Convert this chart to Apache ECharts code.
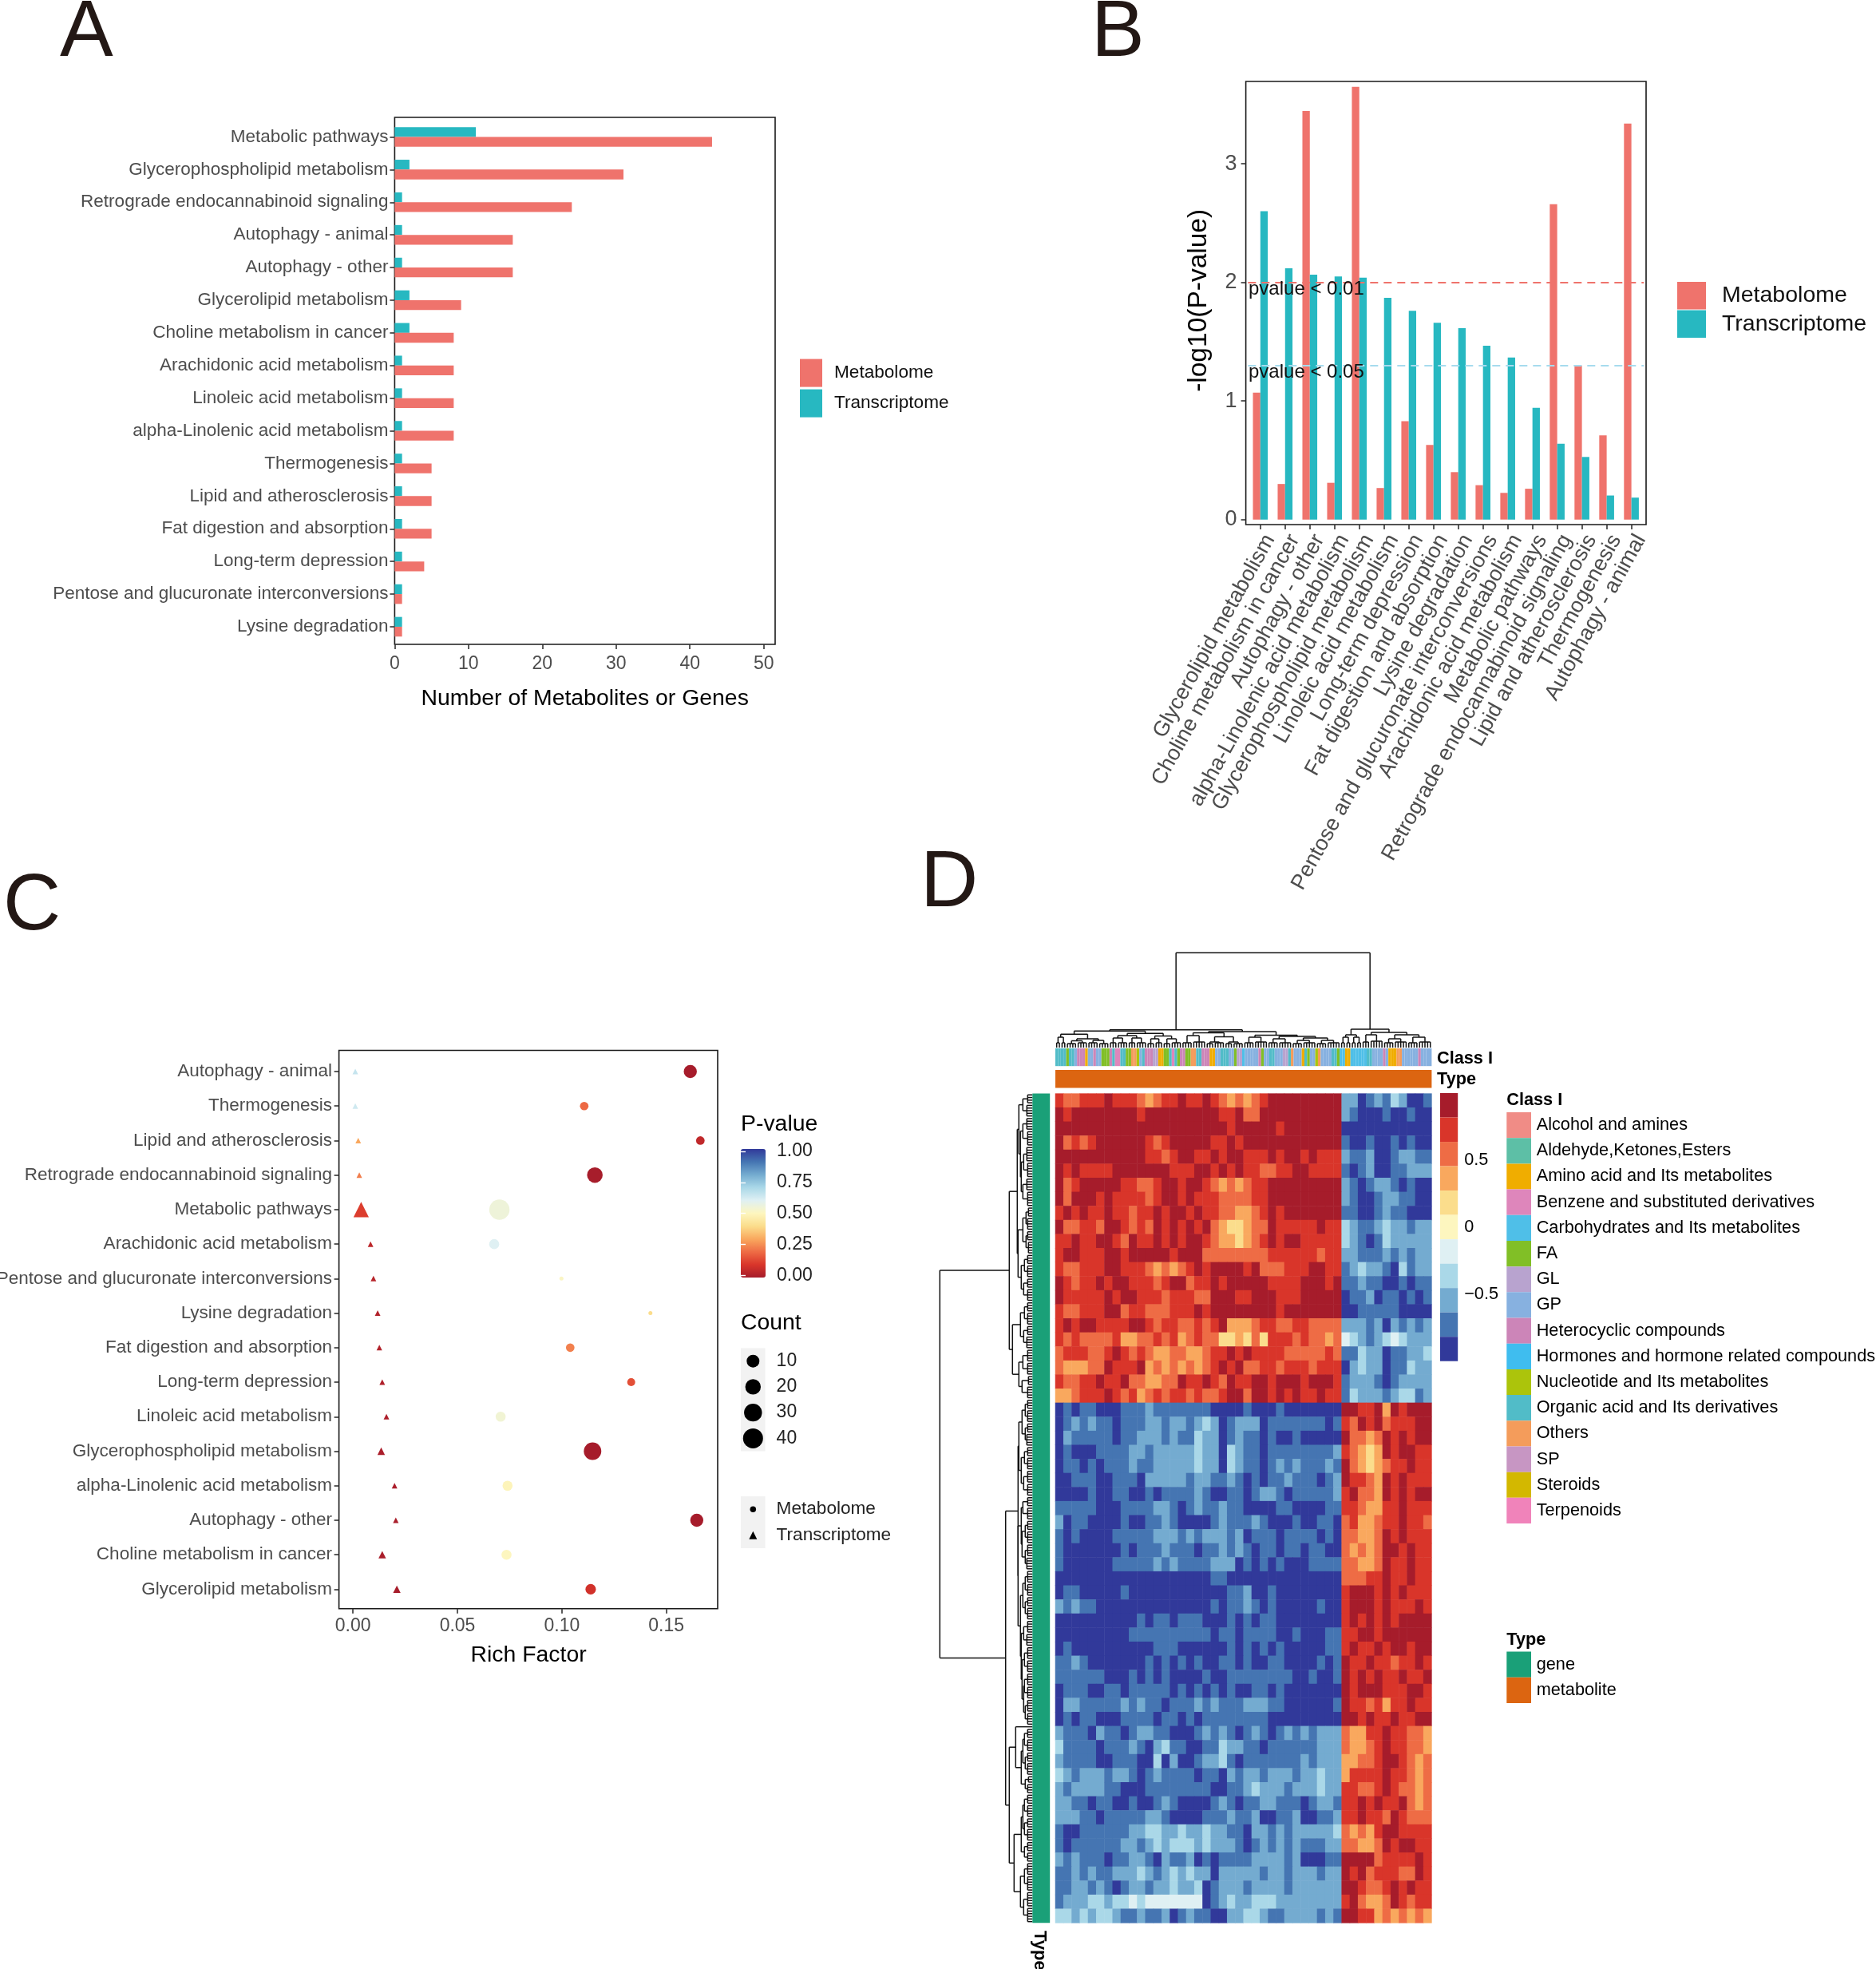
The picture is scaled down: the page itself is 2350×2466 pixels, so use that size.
<!DOCTYPE html>
<html><head><meta charset="utf-8">
<style>html,body{margin:0;padding:0;background:#fff}#c{width:2350px;height:2466px}</style>
<script src="https://cdn.jsdelivr.net/npm/echarts@6/dist/echarts.min.js"></script>
</head><body><div id="c"></div>
<script>
// ---------- Panel A ----------
const catsA = ['Metabolic pathways','Glycerophospholipid metabolism','Retrograde endocannabinoid signaling','Autophagy - animal','Autophagy - other','Glycerolipid metabolism','Choline metabolism in cancer','Arachidonic acid metabolism','Linoleic acid metabolism','alpha-Linolenic acid metabolism','Thermogenesis','Lipid and atherosclerosis','Fat digestion and absorption','Long-term depression','Pentose and glucuronate interconversions','Lysine degradation'];
const metA = [43,31,24,16,16,9,8,8,8,8,5,5,5,4,1,1];
const traA = [11,2,1,1,1,2,2,1,1,1,1,1,1,1,1,1];
// ---------- Panel B ----------
const catsB = ['Glycerolipid metabolism','Choline metabolism in cancer','Autophagy - other','alpha-Linolenic acid metabolism','Glycerophospholipid metabolism','Linoleic acid metabolism','Long-term depression','Fat digestion and absorption','Lysine degradation','Pentose and glucuronate interconversions','Arachidonic acid metabolism','Metabolic pathways','Retrograde endocannabinoid signaling','Lipid and atherosclerosis','Thermogenesis','Autophagy - animal'];
const metB = [1.07,0.30,3.446,0.31,3.65,0.266,0.83,0.63,0.40,0.29,0.225,0.26,2.66,1.30,0.71,3.34];
const traB = [2.60,2.12,2.066,2.05,2.04,1.87,1.76,1.66,1.615,1.466,1.367,0.943,0.64,0.528,0.203,0.185];
const thresholds = [2, 1.3];
// ---------- Panel C ----------
const catsC = ['Autophagy - animal','Thermogenesis','Lipid and atherosclerosis','Retrograde endocannabinoid signaling','Metabolic pathways','Arachidonic acid metabolism','Pentose and glucuronate interconversions','Lysine degradation','Fat digestion and absorption','Long-term depression','Linoleic acid metabolism','Glycerophospholipid metabolism','alpha-Linolenic acid metabolism','Autophagy - other','Choline metabolism in cancer','Glycerolipid metabolism'];
const richMet = [0.1615,0.1107,0.1663,0.1158,0.0701,0.0676,0.0998,0.1424,0.104,0.1332,0.0707,0.1147,0.074,0.1646,0.0735,0.1138];
const richTra = [0.0011,0.0011,0.0025,0.003,0.0039,0.0084,0.0098,0.0118,0.0126,0.014,0.016,0.0135,0.0199,0.0205,0.014,0.021];
const pMet = [0.0005,0.195,0.05,0.002,0.55,0.6,0.51,0.40,0.234,0.148,0.54,0.0002,0.49,0.0004,0.50,0.085];
const pTra = [0.65,0.63,0.30,0.23,0.114,0.043,0.034,0.024,0.022,0.017,0.0135,0.009,0.009,0.0086,0.0076,0.0025];
const countMet = [16,5,5,24,43,8,1,1,5,4,8,31,8,16,8,9];
const countTra = [1,1,1,1,11,1,1,1,1,1,1,2,1,1,2,2];
const countLegend = [10,20,30,40];
const shapeLegend = ['Metabolome','Transcriptome'];
// ---------- Panel D ----------
const classNames = ['Alcohol and amines','Aldehyde,Ketones,Esters','Amino acid and Its metabolites','Benzene and substituted derivatives','Carbohydrates and Its metabolites','FA','GL','GP','Heterocyclic compounds','Hormones and hormone related compounds','Nucleotide and Its metabolites','Organic acid and Its derivatives','Others','SP','Steroids','Terpenoids'];
const classColors = ['#F08C86','#5DBFA6','#F0AD00','#DE86BB','#4FBFE8','#81BF26','#B8A3CF','#87B1E0','#CC85B8','#3FBDEF','#ACC40B','#51BCC8','#F49C5B','#C796C3','#D3B800','#F083BA'];
const typeNames = ['gene','metabolite'];
const typeColors = ['#1AA078','#DC6511'];
const levelColors = ['#31399A','#4575B2','#74ABD0','#AAD8E8','#DFF0F3','#FDF6BF','#FBDD8C','#F9A85E','#EE6C45','#D9352A','#A61C2B'];
// one letter per column: A..P = index in classNames
const classCols = 'LLLL F LLH III C HH I HH FFF IL DD LL FF MM K HL III GG CC FFL D LF II FF MM LL III CC HH LLL HH F GG E HHHHH I F HH LL HHH GG LM HHH C L F HH K MH HHH LL F EE CC EEEEEE LL HHH HIH CCC MM HHHHHH I HHHH';
// heat levels on a coarse grid; 0 = darkest blue ... a = darkest red
const heatRows = [
'98899 9a999 87899 a99a9 87878 9aaaa aaaaa 22012132001',
'a9aaa aaaaa 9aaaa aaaaa 99a88 aaaaa aaaaa 21000100100',
'aaaaa aaaaa aaaaa aaaaa a9aaa aa9aa aaaaa 00000000000',
'a8989 aaaaa a989a aaaa9 9a9aa aaaaa aaaaa 10010010100',
'aaaaa aaaaa a9989 aa99a 9aa99 9a9aa 9a999 21120012211',
'a9a99 99aaa aaaa9 99aa9 a9a99 8899a a9999 10120011222',
'a89aa aaa99 889aa 9aa98 78789 9aaaa aaaaa 21012210100',
'a8aaa 9a999 989aa 9a999 88889 9aaaa aaaaa 21001221100',
'9a9a9 9a998 99a9a a9a99 88778 9a9aa aaaaa 11001211000',
'a8899 8aa98 98a9a 9a9a8 76678 8a999 99a99 32112322122',
'99a99 aa98a 99a9a 9aa98 77678 9a9aa 99999 32101322222',
'9aa99 9aa9a aaaa9 aaa88 88888 89999 99899 22111212122',
'98899 9aa99 98787 89a9a aaa9a 88899 9aa99 12322103122',
'a9899 a9aa9 9989a a899a 9aaaa a9999 aaa9a 11211001011',
'a9999 9a9aa 99989 9988a aa99a aa999 aaaaa 01120110101',
'98899 9aa89 98889 99a9a aaaaa aa9aa aaaaa 00111110000',
'9a9aa 9999a a9899 88989 a7778 99889 98888 22212021212',
'98988 88977 88989 78988 66768 69998 98878 43212343222',
'89998 89a98 98778 87789 9a9a9 99988 88898 11322011223',
'87778 8a999 a7878 78789 a9a88 99899 98999 02322011322',
'98899 a99a8 87788 a99a9 8a99a a9aaa 9aaa9 12221012222',
'77899 9a989 78989 98988 9aa8a a9a9a 99a99 13222123312',
'01011 00011 12111 11110 00010 00100 00000 aa99a7a9aaa',
'01212 11011 12212 21232 01222 01111 11101 98a9a8999aa',
'02111 11011 22212 11322 01211 01001 00000 a8878a9a9aa',
'01000 11112 21222 22322 03211 01111 11112 98767a9aa99',
'01101 01112 11222 22322 03211 01212 11121 a8767899a99',
'00111 00111 02222 21221 12101 01121 11012 a9987a9a999',
'00001 00110 01011 11210 01101 22101 11112 9a887a9a9aa',
'11111 00011 11221 01211 21100 00110 00011 9987799a999',
'20110 00010 01121 00001 21112 10001 00110 8977899a998',
'10100 00111 11222 12122 21201 11011 11010 88778a9a999',
'10000 00010 11121 11011 21210 11011 01100 87878aa9a99',
'10000 00111 11212 11112 22010 10100 01111 88778a99a99',
'00000 00000 00000 00001 10000 00000 00000 88899a99a99',
'01100 00010 00000 00000 01120 01000 00000 9aaa9a9a999',
'21211 00000 00000 00001 01121 01000 00100 9aaa9a999a9',
'00000 00000 10110 11100 01010 11000 00000 9a9a9a9aaaa',
'00000 00001 11111 11110 11011 11001 00011 99aa9aaaaaa',
'01000 00000 00111 00000 01010 10100 00011 9a99a9aa9aa',
'11210 00000 01010 10100 11010 01100 00101 a99a99899a9',
'11111 10001 01010 00010 01111 11110 01001 a9a9a99a99a',
'01110 01101 11110 10101 01001 10100 00000 a9aaa999aa9',
'02211 11121 21101 11212 11122 21100 00001 a9989799a99',
'01011 00011 11011 01011 11111 10000 00000 aa9a99a99aa',
'21110 21101 22110 00121 21012 10121 21222 87799a99887',
'31111 01112 10231 10011 32211 01111 11222 87789a99887',
'21111 00111 00302 00122 31011 11111 21222 77889aa9878',
'32122 21221 01211 11011 02122 12221 22322 79999a99878',
'21222 21100 01111 11110 01123 22212 22322 99889a98878',
'22110 11001 00121 00001 21011 22111 01221 99a9a99a878',
'22211 01111 12210 00011 12112 00112 00112 99a998a9888',
'10011 11112 23322 32232 21102 21212 22223 87879aa9999',
'10111 11122 12323 33232 22101 21212 11122 88778a9aa99',
'21211 10112 21021 12010 11112 22212 00011 aaaa89999a9',
'11212 11222 32123 23220 22222 12212 22122 a9a899988a9',
'11221 21012 21223 22301 22212 22212 22222 aa9889a9a99',
'12223 32334 34444 44401 23223 33222 22222 9a8778a9899',
'33232 33211 21120 12110 02233 21122 22121 aa997878787'
];
// dendrograms: leaf = [leaves, height]; node = [height, childA, childB]
const topTree = [118.8,
 [22.3,
  [20.7,
   [16.7,[13,[2,6],[2,6]],[11,[8.5,[4,5],[4,6]],[9,[4,6],[4,5]]]],
   [17.7,[15,[12,[3,6],[4,6]],[12,[3,6],[4,6]]],[14.5,[11,[3,5],[3,6]],[11,[3,5],[4,6]]]]],
  [20,
   [18.5,[15,[4,6],[5,7]],[13.5,[7,[3,5],[4,6]],[7,[3,5],[4,5]]]],
   [15.5,[13,[4,6],[5,7]],[14,[11,[4,6],[5,6]],[12,[9,[4,5],[5,6]],[9,[4,5],[5,6]]]]]]],
 [23,
  [16,[13,[2,6],[2,6]],[13,[2,6],[2,6]]],
  [19,[16,[3,7],[5,8]],[16,[11,[4,6],[5,7]],[13,[4,6],[5,7]]]]]];
const leftTree = [116,
 [29,
  [19,
   [17,[12,[4,6],[5,7]],[15,[12,[5,7],[6,6]],[14,[11,[6,7],[6,6]],[12,[5,7],[6,6]]]]],
   [18,[12,[8,[4,5],[5,6]],[8,[4,6],[5,5]]],[14,[10,[4,6],[5,6]],[11,[4,6],[5,6]]]]],
  [25,[15,[10,[4,6],[5,6]],[11,[4,6],[5,7]]],[17,[12,[5,6],[5,6]],[13,[4,5],[5,6]]]]],
 [33.6,
  [18,
   [17,[13,[9,[4,6],[5,6]],[9,[4,6],[5,7]]],[14,[10,[4,6],[5,6]],[11,[5,6],[5,6]]]],
   [18,
    [14,[12,[4,6],[5,6]],[13,[9,[4,6],[5,6]],[9,[5,6],[5,7]]]],
    [15,[12,[9,[5,6],[5,6]],[9,[4,6],[5,6]]],[14,[11,[5,6],[5,7]],[13,[10,[5,6],[5,6]],[11,[10,[5,6],[5,6]],[9,[5,6],[5,6]]]]]]]],
  [29,
   [21,[1,0],[14,[12,[10,[4,6],[5,6]],[9,[4,6],[5,6]]],[9,[3,5],[4,6]]]],
   [23,[14,[12,[10,[4,6],[5,6]],[10,[4,6],[5,6]]],[10,[4,6],[4,6]]],[15,[10,[5,6],[6,6]],[11,[6,6],[6,6]]]]]]];

// ---------- styling ----------
const RED='#EF736C', TEAL='#27B8C1', GREY='#4D4D4D', TICK='#333';
const SANS='"Liberation Sans",Arial,sans-serif';
const LBL=22.5, TICKFONT=23, TITLE=28.4;   // narrow-looking text sized to the reference's widths
const grids=[], xAxes=[], yAxes=[], series=[], visualMaps=[], graphics=[];
function addGrid(l,t,w,h,extra){grids.push(Object.assign({left:l,top:t,width:w,height:h,containLabel:false,outerBoundsMode:'none',show:false},extra||{}));return grids.length-1;}
function frame(l,t,w,h){addGrid(l,t,w,h,{show:true,borderColor:'#1a1a1a',borderWidth:1.6,backgroundColor:'transparent'});}
function hiddenAxis(gi,o){return Object.assign({gridIndex:gi,show:false,splitLine:{show:false}},o);}
function addX(o){xAxes.push(o);return xAxes.length-1;}
function addY(o){yAxes.push(o);return yAxes.length-1;}
const tick={show:true,length:6,lineStyle:{color:TICK,width:1.6}};
function txt(x,y,text,size,color,extra){graphics.push(Object.assign({type:'text',x:x,y:y,silent:true,z:20,style:Object.assign({text:text,font:(extra&&extra.weight||'normal')+' '+size+'px '+SANS,fill:color||'#000',textAlign:'left',textVerticalAlign:'middle'},extra&&extra.style||{})},extra&&extra.el||{}));}

// Panel letters
[['A',75,42],['B',1367,42],['C',4,1136],['D',1153,1107]].forEach(a=>txt(a[1],a[2],a[0],100,'#231815'));

// ===== Panel A =====
frame(494.4,147,476.6,660);
{const g=addGrid(494.4,151,476.6,654.4);
 const xi=addX({type:'value',gridIndex:g,min:0,max:51.55,interval:10,offset:1.7,splitLine:{show:false},axisLine:{show:false},axisTick:tick,
   axisLabel:{color:GREY,fontFamily:SANS,fontSize:TICKFONT,margin:13,showMaxLabel:false},name:'Number of Metabolites or Genes',nameLocation:'middle',nameGap:54,nameTextStyle:{color:'#000',fontFamily:SANS,fontSize:TITLE}});
 const yi=addY({type:'category',gridIndex:g,inverse:true,data:catsA,axisLine:{show:false},axisTick:Object.assign({alignWithLabel:true},tick),
   axisLabel:{color:GREY,fontFamily:SANS,fontSize:LBL,margin:8,interval:0,padding:[3,0,0,0]}});
 series.push({name:'Transcriptome',type:'bar',xAxisIndex:xi,yAxisIndex:yi,data:traA,barWidth:12.3,barGap:0,itemStyle:{color:TEAL}});
 series.push({name:'Metabolome',type:'bar',xAxisIndex:xi,yAxisIndex:yi,data:metA,barWidth:12.3,barGap:0,itemStyle:{color:RED}});
}
// ===== Panel B =====
frame(1560.6,102,501.4,555);
{const g=addGrid(1563.3,102,495.8,548.7);
 const xi=addX(hiddenAxis(g,{type:'category',data:catsB}));
 const yi=addY(hiddenAxis(g,{type:'value',min:0,max:3.695}));
 series.push({name:'Metabolome',type:'bar',xAxisIndex:xi,yAxisIndex:yi,data:metB,barWidth:9.3,barGap:0,itemStyle:{color:RED}});
 series.push({name:'Transcriptome',type:'bar',xAxisIndex:xi,yAxisIndex:yi,data:traB,barWidth:9.3,barGap:0,itemStyle:{color:TEAL},
   markLine:{silent:true,symbol:'none',label:{show:false},data:[
     {yAxis:thresholds[0],lineStyle:{color:RED,type:[10,7],width:2}},
     {yAxis:thresholds[1],lineStyle:{color:'#A6DBEE',type:[10,7],width:2}}]}});
 // x labels sit on the frame's bottom edge
 const gx=addGrid(1563.3,102,495.8,555);
 addX({type:'category',gridIndex:gx,data:catsB,axisLine:{show:false},axisTick:Object.assign({alignWithLabel:true},tick),
   axisLabel:{rotate:61,interval:0,align:'right',verticalAlign:'top',color:GREY,fontFamily:SANS,fontSize:27,margin:8}});
 addY(hiddenAxis(gx,{type:'value',min:0,max:1}));
 // y labels sit on the frame's left edge
 const gy=addGrid(1560.6,102,100,548.7);
 addX(hiddenAxis(gy,{type:'value',min:0,max:1}));
 addY({type:'value',gridIndex:gy,min:0,max:3.695,interval:1,splitLine:{show:false},axisLine:{show:false},axisTick:tick,
   axisLabel:{color:GREY,fontFamily:SANS,fontSize:27,margin:11,showMaxLabel:false,padding:[2,0,0,0]},name:'-log10(P-value)',nameLocation:'middle',nameGap:42,nameTextStyle:{color:'#000',fontFamily:SANS,fontSize:33.5}});
 txt(1564,362.6,'pvalue < 0.01',24,'#111');
 txt(1564,466.5,'pvalue < 0.05',24,'#111');
}
// ===== Panel C =====
function dotSize(c){return c<2?5:Math.sqrt(45+14*c);}
function triSize(c){return 7*Math.pow(c,0.42);}
frame(424.6,1315.5,474.4,699.2);
{const g=addGrid(442.2,1320.4,456.8,691.6);
 const xi=addX(hiddenAxis(g,{type:'value',min:0,max:0.1746}));
 const yi=addY(hiddenAxis(g,{type:'category',inverse:true,data:catsC}));
 const s0=series.length;
 series.push({name:'Metabolome dots',type:'scatter',xAxisIndex:xi,yAxisIndex:yi,symbol:'circle',encode:{x:0,y:1},itemStyle:{opacity:1},
   data:catsC.map((c,i)=>[richMet[i],c,pMet[i],countMet[i]]),symbolSize:v=>dotSize(v[3]),clip:false});
 series.push({name:'Transcriptome dots',type:'scatter',xAxisIndex:xi,yAxisIndex:yi,symbol:'triangle',encode:{x:0,y:1},itemStyle:{opacity:1},
   data:catsC.map((c,i)=>[richTra[i],c,pTra[i],countTra[i]]),symbolSize:v=>triSize(v[3]),clip:false});
 // x labels on the frame's bottom edge
 const gx=addGrid(442.2,1320.4,456.8,694.3);
 addX({type:'value',gridIndex:gx,min:0,max:0.1746,interval:0.05,splitLine:{show:false},axisLine:{show:false},axisTick:tick,
   axisLabel:{color:GREY,fontFamily:SANS,fontSize:TICKFONT,margin:10,showMaxLabel:false,formatter:v=>v.toFixed(2)},name:'Rich Factor',nameLocation:'middle',nameGap:44,nameTextStyle:{color:'#000',fontFamily:SANS,fontSize:TITLE,padding:[0,17,0,0]}});
 addY(hiddenAxis(gx,{type:'value',min:0,max:1}));
 // y labels on the frame's left edge
 const gy=addGrid(424.6,1320.4,100,691.6);
 addX(hiddenAxis(gy,{type:'value',min:0,max:1}));
 addY({type:'category',gridIndex:gy,inverse:true,data:catsC,axisLine:{show:false},axisTick:Object.assign({alignWithLabel:true},tick),
   axisLabel:{color:GREY,fontFamily:SANS,fontSize:LBL,margin:8.6,interval:0,padding:[3,0,0,0]}});

 visualMaps.push({type:'continuous',seriesIndex:[s0,s0+1],dimension:2,min:0,max:1,calculable:false,realtime:false,orient:'vertical',left:928,top:1439,itemWidth:31,itemHeight:161,text:null,padding:0,inRange:{color:levelColors.slice().reverse()},z:4,showLabel:false});
 // colour-bar axis
 const gb=addGrid(928,1441.8,31,155.8);
 addX(hiddenAxis(gb,{type:'value',min:0,max:1}));
 const tk={show:true,inside:true,length:6,lineStyle:{color:'#fff',width:1.4}};
 addY({type:'value',gridIndex:gb,position:'right',min:0,max:1,interval:0.25,z:10,splitLine:{show:false},axisLine:{show:false},axisTick:tk,axisLabel:{color:'#222',fontFamily:SANS,fontSize:TICKFONT,margin:14,padding:[4,0,0,0],formatter:v=>v.toFixed(2)}});
 addY({type:'value',gridIndex:gb,position:'left',min:0,max:1,interval:0.25,z:10,splitLine:{show:false},axisLine:{show:false},axisTick:tk,axisLabel:{show:false}});
 txt(928,1408,'P-value',TITLE,'#000');
 txt(928,1657,'Count',TITLE,'#000');
 // size legend
 const gc=addGrid(928,1688.5,30.6,129,{show:true,borderWidth:0,backgroundColor:'#F2F2F2'});
 const cx=addX(hiddenAxis(gc,{type:'value',min:0,max:1}));
 const cy=addY({type:'category',gridIndex:gc,position:'right',inverse:true,data:countLegend.map(String),axisLine:{show:false},axisTick:{show:false},axisLabel:{color:'#222',fontFamily:SANS,fontSize:TICKFONT,margin:14,interval:0}});
 series.push({type:'scatter',name:'count key',xAxisIndex:cx,yAxisIndex:cy,symbol:'circle',itemStyle:{color:'#000',opacity:1},clip:false,encode:{x:0,y:1},
   data:countLegend.map(c=>[0.5,String(c),c]),symbolSize:v=>Math.sqrt(133+12.3*v[2])});
 // shape legend
 const gs=addGrid(928,1874,30.6,65,{show:true,borderWidth:0,backgroundColor:'#F2F2F2'});
 const sx=addX(hiddenAxis(gs,{type:'value',min:0,max:1}));
 const sy=addY({type:'category',gridIndex:gs,position:'right',inverse:true,data:shapeLegend,axisLine:{show:false},axisTick:{show:false},axisLabel:{color:'#222',fontFamily:SANS,fontSize:22.6,margin:14,interval:0}});
 series.push({type:'scatter',name:'shape key',xAxisIndex:sx,yAxisIndex:sy,itemStyle:{color:'#000',opacity:1},encode:{x:0,y:1},
   data:[{value:[0.5,shapeLegend[0]],symbol:'circle',symbolSize:7.5},{value:[0.5,shapeLegend[1]],symbol:'triangle',symbolSize:10}]});
}
// ===== Panel D =====
const HL=1322,HT=1369.6,HW=471.4,HH=1038.7,DFONT=21.7;
const clean=heatRows.map(r=>r.replace(/\s/g,''));
const nRows=clean.length,nCols=clean[0].length;
const heatData=[];
clean.forEach((r,ri)=>{for(let ci=0;ci<r.length;ci++){const lv=parseInt(r[ci],16);heatData.push([ci,ri,-1+(lv+0.5)*2/11]);}});
{const g=addGrid(HL,HT,HW,HH);
 const xi=addX(hiddenAxis(g,{type:'category',data:Array.from({length:nCols},(_,i)=>i)}));
 const yi=addY(hiddenAxis(g,{type:'category',inverse:true,data:Array.from({length:nRows},(_,i)=>i)}));
 const idx=series.length;
 series.push({type:'heatmap',name:'expression',xAxisIndex:xi,yAxisIndex:yi,data:heatData,progressive:0,silent:true,emphasis:{disabled:true}});
 visualMaps.push({type:'piecewise',seriesIndex:idx,dimension:2,orient:'vertical',left:1804,top:1369,padding:0,itemWidth:22.2,itemHeight:30.52,itemGap:0,itemSymbol:'rect',showLabel:false,selectedMode:false,text:null,
   pieces:levelColors.map((c,i)=>({min:-1+i*2/11,max:-1+(i+1)*2/11,color:c}))});
 const gb=addGrid(1804,1369,22.2,335.7);
 addX(hiddenAxis(gb,{type:'value',min:0,max:1}));
 addY({type:'value',gridIndex:gb,position:'right',min:-1,max:1,interval:0.5,splitLine:{show:false},axisLine:{show:false},axisTick:{show:false},
   axisLabel:{color:'#000',fontFamily:SANS,fontSize:DFONT,margin:8,padding:[3,0,0,0],formatter:v=>(Math.abs(v)===1?'':(v<0?'\u2212':'')+Math.abs(v))}});
}
// annotation strips
function strip(l,t,w,h,cols){
 const g=addGrid(l,t,w,h);
 const xi=addX(hiddenAxis(g,{type:'category',data:cols.map((_,i)=>i)}));
 const yi=addY(hiddenAxis(g,{type:'value',min:0,max:1}));
 series.push({type:'bar',name:'strip',xAxisIndex:xi,yAxisIndex:yi,barWidth:'100%',silent:true,data:cols.map(c=>({value:1,itemStyle:{color:c}}))});
}
const classSeq=classCols.replace(/\s/g,'').split('').map(ch=>classColors[ch.charCodeAt(0)-65]);
strip(HL,1312.9,HW,22.3,classSeq);
strip(HL,1340,HW,22.4,[typeColors[1]]);
strip(1293.3,HT,21.9,HH,[typeColors[0]]);
txt(1800,1325.6,'Class I',DFONT,'#000',{weight:'bold'});
txt(1800,1352.4,'Type',DFONT,'#000',{weight:'bold'});
txt(1302,2418,'Type',22,'#000',{weight:'bold',el:{rotation:-Math.PI/2}});
// dendrograms
function layoutTree(n,start,out){
 if(n.length===2){const w=n[0],h=n[1];
  for(let i=0;i<w;i++)out.push([start+i+.5,0,start+i+.5,h]);
  if(w>1)out.push([start+.5,h,start+w-.5,h]);
  return {pos:start+w/2,h:h,end:start+w};}
 const a=layoutTree(n[1],start,out),b=layoutTree(n[2],a.end,out),h=n[0];
 out.push([a.pos,a.h,a.pos,h],[b.pos,b.h,b.pos,h],[a.pos,h,b.pos,h]);
 return {pos:(a.pos+b.pos)/2,h:h,end:b.end};
}
function segSeries(data,xi,yi){
 series.push({type:'custom',name:'dendrogram',coordinateSystem:'cartesian2d',xAxisIndex:xi,yAxisIndex:yi,data:data,encode:{x:[0,2],y:[1,3]},silent:true,clip:false,
  renderItem:(p,api)=>{const a=api.coord([api.value(0),api.value(1)]),b=api.coord([api.value(2),api.value(3)]);
   return {type:'line',shape:{x1:a[0],y1:a[1],x2:b[0],y2:b[1]},style:{stroke:'#111',lineWidth:1.5}};}});
}
{const segs=[];layoutTree(topTree,0,segs);
 const g=addGrid(HL,1192,HW,120);
 const xi=addX(hiddenAxis(g,{type:'value',min:0,max:140}));
 const yi=addY(hiddenAxis(g,{type:'value',min:0,max:120}));
 segSeries(segs,xi,yi);}
{const segs=[];layoutTree(leftTree,0,segs);
 const g=addGrid(1176.8,HT,116.5,HH);
 const xi=addX(hiddenAxis(g,{type:'value',min:0,max:116.5,inverse:true}));
 const yi=addY(hiddenAxis(g,{type:'value',min:0,max:315,inverse:true}));
 segSeries(segs.map(s=>[s[1],s[0],s[3],s[2]]),xi,yi);}
// key tables for D
function keyTable(l,t,w,h,names,colors){
 const g=addGrid(l,t,w,h);
 const xi=addX(hiddenAxis(g,{type:'value',min:0,max:1}));
 const yi=addY({type:'category',gridIndex:g,position:'right',inverse:true,data:names,axisLine:{show:false},axisTick:{show:false},
  axisLabel:{color:'#000',fontFamily:SANS,fontSize:DFONT,margin:6.7,interval:0,padding:[3,0,0,0]}});
 series.push({type:'bar',name:'key',xAxisIndex:xi,yAxisIndex:yi,barWidth:'100%',silent:true,data:colors.map(c=>({value:1,itemStyle:{color:c}}))});
}
txt(1887.3,1378,'Class I',DFONT,'#000',{weight:'bold'});
keyTable(1887.3,1393,30.7,515,classNames,classColors);
txt(1887.3,2053.6,'Type',DFONT,'#000',{weight:'bold'});
keyTable(1887.3,2068.4,30.7,64.6,typeNames,typeColors);

const legendNames=['Metabolome','Transcriptome'];
const option={
 animation:false,backgroundColor:'#fff',
 legend:[
  {data:legendNames,selectedMode:false,orient:'vertical',left:1002,top:449.6,padding:0,icon:'rect',itemWidth:28,itemHeight:35,itemGap:3,textStyle:{color:'#111',fontFamily:SANS,fontSize:22.6,padding:[2,0,0,10]}},
  {data:legendNames,selectedMode:false,orient:'vertical',left:2101,top:353,padding:0,icon:'rect',itemWidth:36,itemHeight:34.5,itemGap:1,textStyle:{color:'#111',fontFamily:SANS,fontSize:28.5,padding:[2,0,0,15]}}
 ],
 grid:grids,xAxis:xAxes,yAxis:yAxes,series:series,visualMap:visualMaps,graphic:{elements:graphics},tooltip:{show:false}
};
const chart=echarts.init(document.getElementById('c'),null,{width:2350,height:2466});
chart.setOption(option);
</script></body></html>
